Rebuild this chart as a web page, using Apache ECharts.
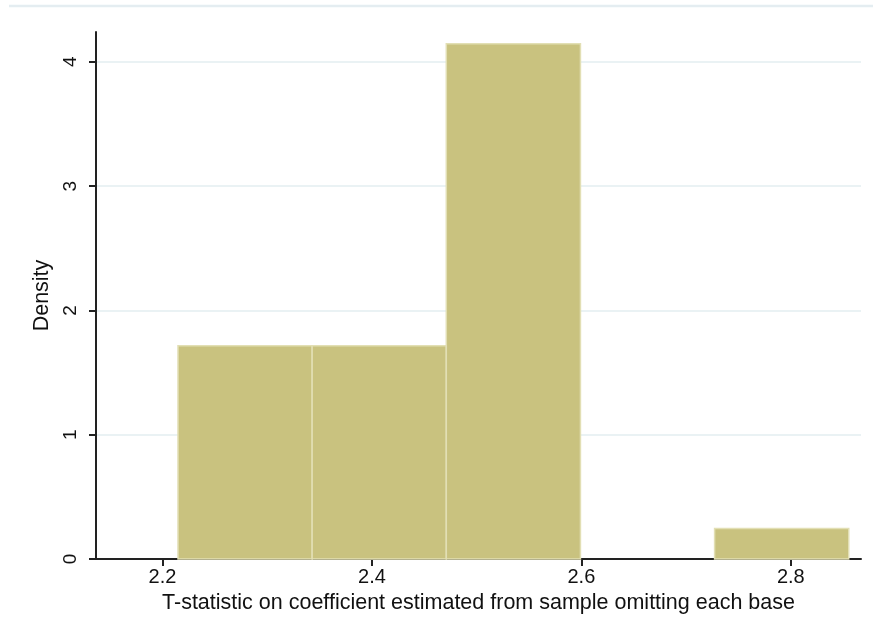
<!DOCTYPE html>
<html>
<head>
<meta charset="utf-8">
<script src="https://cdn.jsdelivr.net/npm/echarts@6/dist/echarts.min.js"></script>
<style>
  html, body { margin: 0; padding: 0; background: #fff; }
  #main { width: 873px; height: 643px; }
</style>
</head>
<body>
<div id="main"></div>
<script>
// bin edges of the histogram and the density of each bin
var binEdges = [2.2148, 2.3429, 2.4710, 2.5991, 2.7272, 2.8553];
var densities = [1.715, 1.715, 4.145, 0, 0.245];
var xTicks = [2.2, 2.4, 2.6, 2.8];
var yTicks = [0, 1, 2, 3, 4];

var bins = densities.map(function (d, i) {
    return [binEdges[i], binEdges[i + 1], d];
});

var myChart = echarts.init(document.getElementById('main'));
var font = '"Liberation Sans", Arial, sans-serif';

var option = {
    backgroundColor: '#fff',
    animation: false,
    graphic: [{
        type: 'line',
        shape: {x1: 9, y1: 6, x2: 873, y2: 6},
        style: {stroke: '#E4EDF1', lineWidth: 2.5}
    }],
    grid: {left: 96, top: 32, right: 12, bottom: 84},
    xAxis: {
        type: 'value',
        min: 2.1365,
        max: 2.867,
        axisLine: {show: true, onZero: false, lineStyle: {color: '#222', width: 2}},
        axisTick: {show: true, length: 7, lineStyle: {color: '#222', width: 2},
            customValues: xTicks},
        axisLabel: {customValues: xTicks, color: '#111', fontFamily: font, fontSize: 20, margin: 8,
            formatter: function (v) { return v.toFixed(1); }},
        splitLine: {show: false},
        name: 'T-statistic on coefficient estimated from sample omitting each base',
        nameLocation: 'middle',
        nameGap: 28,
        nameTextStyle: {color: '#111', fontFamily: font, fontSize: 21.5}
    },
    yAxis: {
        type: 'value',
        min: 0,
        max: 4.24,
        axisLine: {show: true, lineStyle: {color: '#222', width: 2}},
        axisTick: {show: true, length: 7, lineStyle: {color: '#222', width: 2},
            customValues: yTicks},
        axisLabel: {customValues: yTicks, rotate: 90, color: '#111', fontFamily: font, fontSize: 19, margin: 16},
        splitLine: {show: true, lineStyle: {color: '#E3EEF0', width: 1.5},
            customValues: [1, 2, 3, 4]},
        name: 'Density',
        nameLocation: 'middle',
        nameGap: 40,
        nameTextStyle: {color: '#111', fontFamily: font, fontSize: 21.5}
    },
    series: [{
        type: 'custom',
        data: bins,
        renderItem: function (params, api) {
            if (api.value(2) <= 0) {
                return null;
            }
            var p0 = api.coord([api.value(0), api.value(2)]);
            var p1 = api.coord([api.value(1), 0]);
            return {
                type: 'rect',
                shape: {x: p0[0], y: p0[1], width: p1[0] - p0[0], height: p1[1] - p0[1]},
                style: {fill: '#C9C27F', stroke: '#E2DFB4', lineWidth: 1.5}
            };
        }
    }]
};

myChart.setOption(option);
</script>
</body>
</html>
